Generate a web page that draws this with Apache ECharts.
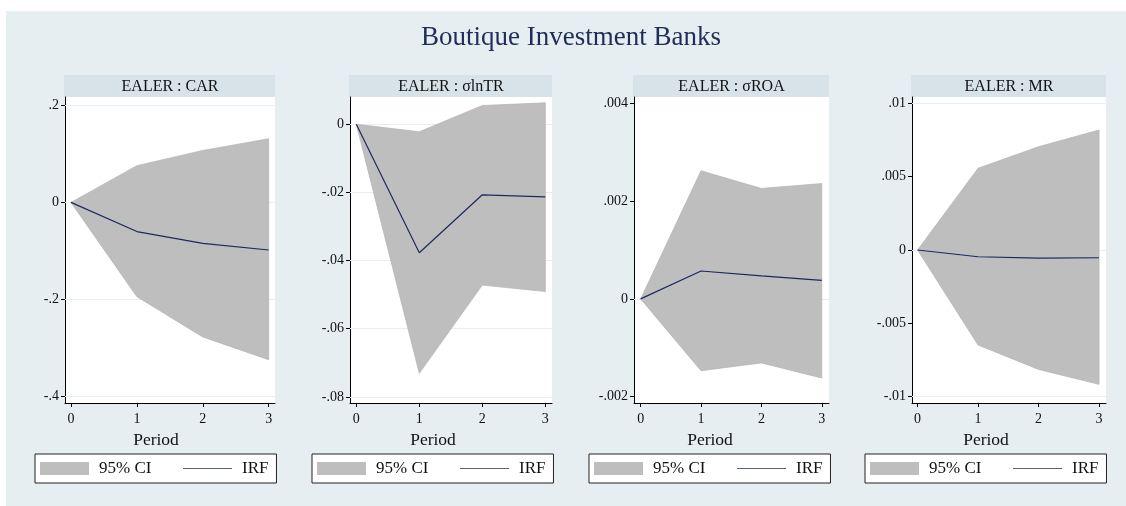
<!DOCTYPE html>
<html>
<head>
<meta charset="utf-8">
<script src="https://cdn.jsdelivr.net/npm/echarts@6/dist/echarts.min.js"></script>
<style>
html,body{margin:0;padding:0;background:#fff;}
#chart{width:1126px;height:506px;}
</style>
</head>
<body>
<div id="chart"></div>
<script>
// ---------------- data ----------------
const chartTitle = 'Boutique Investment Banks';
const periods = [0, 1, 2, 3];
const panelTitles = ['EALER : CAR', 'EALER : \u03c3lnTR', 'EALER : \u03c3ROA', 'EALER : MR'];
const xAxisName = 'Period';
const ciName = '95% CI';
const irfName = 'IRF';

const irfCAR   = [0, -0.060, -0.0845, -0.098];
const lowerCAR = [0, -0.194, -0.277, -0.324];
const upperCAR = [0, 0.0757, 0.107, 0.131];

const irfLnTR   = [0, -0.0377, -0.0207, -0.0213];
const lowerLnTR = [0, -0.0731, -0.0472, -0.0491];
const upperLnTR = [0, -0.0022, 0.0055, 0.0063];

const irfROA   = [0, 0.00057, 0.00047, 0.00038];
const lowerROA = [0, -0.00147, -0.00131, -0.00162];
const upperROA = [0, 0.00262, 0.00226, 0.00236];

const irfMR   = [0, -0.00046, -0.00055, -0.00053];
const lowerMR = [0, -0.00648, -0.00814, -0.00916];
const upperMR = [0, 0.00557, 0.00704, 0.00818];

const xTicks = [0, 1, 2, 3];
const xTickLabels = ['0', '1', '2', '3'];

const yTicksCAR = [-0.4, -0.2, 0, 0.2];
const yLabelsCAR = ['-.4', '-.2', '0', '.2'];
const yTicksLnTR = [-0.08, -0.06, -0.04, -0.02, 0];
const yLabelsLnTR = ['-.08', '-.06', '-.04', '-.02', '0'];
const yTicksROA = [-0.002, 0, 0.002, 0.004];
const yLabelsROA = ['-.002', '0', '.002', '.004'];
const yTicksMR = [-0.01, -0.005, 0, 0.005, 0.01];
const yLabelsMR = ['-.01', '-.005', '0', '.005', '.01'];

// ---------------- layout / style ----------------
const panels = [
  {irf: irfCAR, lo: lowerCAR, hi: upperCAR, yt: yTicksCAR, yl: yLabelsCAR,
   left: 65, width: 210, xMin: -0.091, xMax: 3.096, yMin: -0.413, yMax: 0.217, legendLeft: 35},
  {irf: irfLnTR, lo: lowerLnTR, hi: upperLnTR, yt: yTicksLnTR, yl: yLabelsLnTR,
   left: 350, width: 202, xMin: -0.10, xMax: 3.106, yMin: -0.0818, yMax: 0.008, legendLeft: 312},
  {irf: irfROA, lo: lowerROA, hi: upperROA, yt: yTicksROA, yl: yLabelsROA,
   left: 634, width: 195, xMin: -0.11, xMax: 3.12, yMin: -0.00213, yMax: 0.00413, legendLeft: 589},
  {irf: irfMR, lo: lowerMR, hi: upperMR, yt: yTicksMR, yl: yLabelsMR,
   left: 912, width: 194, xMin: -0.092, xMax: 3.115, yMin: -0.01043, yMax: 0.01043, legendLeft: 865}
];
const plotTop = 97, plotHeight = 306;
const stripH = 22;
const FONT = '"Liberation Serif", "Times New Roman", serif';
const bgColor = '#e6eef2';
const stripColor = '#d7e3e9';
const gridLineColor = '#e6eef1';
const ciColor = '#bebebe';
const irfColor = '#1c2a5a';
const legendBoxW = 242;

const grids = [], xAxes = [], yAxes = [], series = [], legends = [];
const graphics = [
  {type: 'rect', z: -10, shape: {x: 6, y: 11, width: 1120, height: 495}, style: {fill: bgColor}},
  {type: 'text', style: {text: chartTitle, x: 571, y: 38, textAlign: 'center', textVerticalAlign: 'middle',
    font: '27px ' + FONT, fill: '#1f2d57'}}
];

panels.forEach((p, i) => {
  grids.push({left: p.left, top: plotTop, width: p.width, height: plotHeight,
    show: true, backgroundColor: '#ffffff', borderWidth: 0, containLabel: false});
  xAxes.push({
    type: 'value', gridIndex: i, min: p.xMin, max: p.xMax,
    axisLine: {show: true, onZero: false, lineStyle: {color: '#000', width: 1}},
    axisTick: {show: true, length: 4, customValues: xTicks, lineStyle: {color: '#000'}},
    axisLabel: {show: true, customValues: xTicks, margin: 9, fontFamily: FONT, fontSize: 14, color: '#111',
      formatter: v => xTickLabels[xTicks.indexOf(v)]},
    splitLine: {show: false}
  });
  yAxes.push({
    type: 'value', gridIndex: i, min: p.yMin, max: p.yMax,
    axisLine: {show: true, onZero: false, lineStyle: {color: '#000', width: 1}},
    axisTick: {show: true, length: 4, customValues: p.yt, lineStyle: {color: '#000'}},
    axisLabel: {show: true, customValues: p.yt, margin: 6, fontFamily: FONT, fontSize: 14, color: '#111',
      formatter: v => { const k = p.yt.findIndex(t => Math.abs(t - v) < 1e-12); return k >= 0 ? p.yl[k] : ''; }},
    splitLine: {show: false}
  });
  const ciData = periods.map((x, k) => [x, p.lo[k], p.hi[k]]);
  series.push({
    type: 'custom', name: ciName, xAxisIndex: i, yAxisIndex: i, silent: true,
    itemStyle: {color: ciColor},
    encode: {x: 0, y: [1, 2]},
    data: ciData,
    renderItem: (params, api) => {
      if (params.dataIndex !== 0) return null;
      const pts = [];
      ciData.forEach(d => pts.push(api.coord([d[0], d[2]])));
      for (let k = ciData.length - 1; k >= 0; k--) pts.push(api.coord([ciData[k][0], ciData[k][1]]));
      return {type: 'polygon', shape: {points: pts},
        style: {fill: ciColor, stroke: '#b2b2b2', lineWidth: 0.7}};
    },
    z: 2
  });
  series.push({
    type: 'line', name: irfName, xAxisIndex: i, yAxisIndex: i, silent: true,
    symbol: 'none', data: periods.map((x, k) => [x, p.irf[k]]),
    lineStyle: {color: irfColor, width: 1.2}, itemStyle: {color: irfColor}, z: 4,
    markLine: {silent: true, symbol: 'none', label: {show: false}, animation: false,
      lineStyle: {color: gridLineColor, width: 1, type: 'solid'},
      data: p.yt.map(t => ({yAxis: t})), z: 1}
  });
  legends.push({
    left: p.legendLeft, top: 454, orient: 'horizontal', selectedMode: false,
    padding: [6, 8, 6, 5], itemGap: 31, itemWidth: 49, itemHeight: 13,
    backgroundColor: '#ffffff', borderColor: '#222', borderWidth: 1, borderRadius: 0,
    textStyle: {fontFamily: FONT, fontSize: 17, color: '#111', padding: [0, 0, 0, 5]},
    data: [
      {name: ciName, icon: 'rect', itemStyle: {color: ciColor}},
      {name: irfName, itemStyle: {color: 'rgba(0,0,0,0)', borderColor: 'rgba(0,0,0,0)', borderWidth: 0},
       lineStyle: {color: '#56617f', width: 1.2}}
    ]
  });
  graphics.push({type: 'rect', shape: {x: p.left - 1, y: plotTop - stripH, width: p.width + 1, height: stripH},
    style: {fill: stripColor}});
  graphics.push({type: 'text', style: {text: panelTitles[i], x: p.left + p.width / 2, y: plotTop - stripH / 2 + 0.5,
    textAlign: 'center', textVerticalAlign: 'middle', font: '16px ' + FONT, fill: '#111'}});
  graphics.push({type: 'text', style: {text: xAxisName, x: p.legendLeft + legendBoxW / 2, y: 440,
    textAlign: 'center', textVerticalAlign: 'middle', font: '17.5px ' + FONT, fill: '#111'}});
});

const chart = echarts.init(document.getElementById('chart'), null, {renderer: 'canvas'});
chart.setOption({
  backgroundColor: '#ffffff',
  animation: false,
  grid: grids, xAxis: xAxes, yAxis: yAxes, series: series, legend: legends,
  graphic: graphics
});
</script>
</body>
</html>
